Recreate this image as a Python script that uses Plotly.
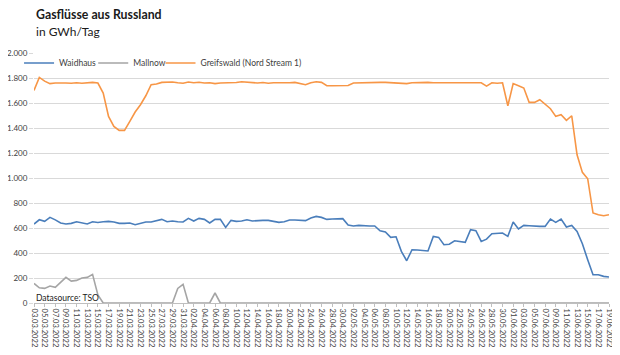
import pandas as pd
import plotly.graph_objects as go

dates = pd.date_range("2022-03-03", "2022-06-19", freq="D")

waidhaus = [632, 666, 653, 685, 665, 640, 632, 637, 650, 640,
            632, 650, 644, 650, 653, 648, 637, 637, 640, 626,
            637, 648, 648, 661, 669, 650, 656, 650, 648, 677,
            656, 677, 669, 640, 669, 669, 605, 661, 653, 656,
            666, 656, 661, 661, 661, 653, 645, 650, 664, 664,
            661, 659, 680, 693, 685, 669, 672, 675, 675, 624,
            616, 621, 616, 616, 616, 578, 568, 525, 530, 413,
            338, 426, 424, 421, 416, 533, 525, 466, 470, 498,
            493, 485, 586, 578, 493, 511, 554, 560, 560, 533,
            648, 592, 621, 618, 613, 613, 613, 672, 645, 672,
            608, 621, 573, 474, 346, 226, 226, 213, 208]

mallnow = [157, 122, 117, 136, 125, 165, 205, 175, 181, 200,
           205, 229, 64, 0, 0, 0, 0, 0, 0, 0,
           0, 0, 0, 0, 0, 0, 0, 117, 149, 0,
           0, 0, 0, 0, 80, 0, 0, 0, 0, 0,
           0, 0, 0, 0, 0, 0, 0, 0, 0, 0,
           0, 0, 0, 0, 0, 0, 0, 0, 0, 0,
           0, 0, 0, 0, 0, 0, 0, 0, 0, 0,
           0, 0, 0, 0, 0, 0, 0, 0, 0, 0,
           0, 0, 0, 0, 0, 0, 0, 0, 0, 0,
           0, 0, 0, 0, 0, 0, 0, 0, 0, 0,
           0, 0, 0, 0, 0, 0, 0, 0, 0]

greifswald = [1700, 1805, 1775, 1755, 1760, 1762, 1760, 1758, 1762, 1758,
              1760, 1765, 1760, 1680, 1493, 1413, 1381, 1381, 1453, 1528,
              1586, 1658, 1746, 1752, 1765, 1768, 1768, 1762, 1758, 1768,
              1762, 1766, 1760, 1762, 1755, 1760, 1762, 1758, 1764, 1770,
              1765, 1762, 1760, 1764, 1758, 1762, 1760, 1758, 1762, 1765,
              1758, 1746, 1762, 1770, 1765, 1738, 1738, 1738, 1738, 1740,
              1760, 1762, 1765, 1765, 1765, 1765, 1765, 1762, 1760, 1758,
              1755, 1762, 1765, 1762, 1765, 1762, 1762, 1760, 1762, 1760,
              1762, 1762, 1762, 1762, 1762, 1735, 1762, 1758, 1762, 1578,
              1755, 1738, 1720, 1605, 1605, 1626, 1592, 1554, 1493, 1506,
              1461, 1498, 1186, 1045, 994, 720, 706, 698, 706]

series_names = ["Waidhaus", "Mallnow", "Greifswald (Nord Stream 1)"]
colors = ["#4a7ebb", "#a5a5a5", "#f79646"]
legend_ids = ["legend", "legend2", "legend3"]
legend_x = [-0.026, 0.103, 0.220]

FONT = "Lato, 'Open Sans', sans-serif"

fig = go.Figure()
for name, vals, col, lid in zip(series_names, [waidhaus, mallnow, greifswald], colors, legend_ids):
    fig.add_trace(go.Scatter(x=dates, y=vals, name=name, mode="lines",
                             line=dict(color=col, width=1.6), legend=lid))

legend_common = dict(orientation="h", y=1.018, xanchor="left", yanchor="top",
                     bgcolor="rgba(0,0,0,0)", font=dict(size=8.5, color="#404040"),
                     itemwidth=30)

fig.update_layout(
    width=612, height=347,
    margin=dict(l=24, r=11, t=45, b=52),
    paper_bgcolor="white", plot_bgcolor="white",
    separators=",.",
    font=dict(family=FONT, size=8, color="#404040"),
    showlegend=True,
    legend=dict(x=legend_x[0], **legend_common),
    legend2=dict(x=legend_x[1], **legend_common),
    legend3=dict(x=legend_x[2], **legend_common),
    annotations=[
        dict(text="<b>Gasflüsse aus Russland</b>", xref="paper", yref="paper",
             x=0.0, y=1 + 38.5 / 250.0, xanchor="left", yanchor="middle",
             showarrow=False, font=dict(size=12.3, color="#1a1a1a", family=FONT)),
        dict(text="in GWh/Tag", xref="paper", yref="paper",
             x=0.0, y=1 + (53 - 32) / 250.0, xanchor="left", yanchor="middle",
             showarrow=False, font=dict(size=12, color="#1a1a1a", family=FONT)),
        dict(text="Datasource: TSO", xref="paper", yref="paper",
             x=0.0, y=(303 - 298) / 250.0, xanchor="left", yanchor="middle",
             showarrow=False, font=dict(size=8.5, color="#1a1a1a", family=FONT)),
    ],
)

fig.update_xaxes(
    type="date", range=[dates[0], dates[-1]],
    tick0=dates[0], dtick=2 * 86400000, tickformat="%d.%m.%Y",
    tickangle=90, tickfont=dict(size=7.6, color="#404040"),
    showgrid=False, showline=True, linecolor="#bfbfbf", linewidth=1,
    ticks="outside", ticklen=3, tickcolor="#bfbfbf",
    zeroline=False, automargin=False,
)
fig.update_yaxes(
    range=[0, 2000], dtick=200, tickformat=",d",
    showgrid=True, gridcolor="#d9d9d9", gridwidth=1,
    showline=False, zeroline=False,
    ticks="outside", ticklen=4, tickcolor="#d9d9d9",
    tickfont=dict(size=8, color="#404040"), automargin=False,
)

fig.write_html("out.html")
